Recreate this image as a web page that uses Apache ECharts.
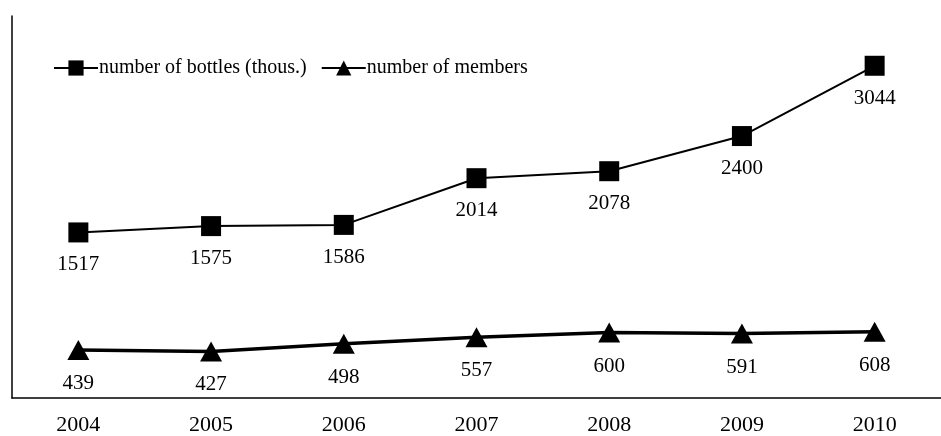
<!DOCTYPE html>
<html>
<head>
<meta charset="utf-8">
<script src="https://cdn.jsdelivr.net/npm/echarts@6/dist/echarts.min.js"></script>
<style>html,body{margin:0;padding:0;background:#fff}#c{width:941px;height:436px}</style>
</head>
<body>
<div id="c"></div>
<script>
var years = ['2004','2005','2006','2007','2008','2009','2010'];
var bottles = [1517,1575,1586,2014,2078,2400,3044];
var members = [439,427,498,557,600,591,608];
var seriesNames = ['number of bottles (thous.)','number of members'];

var font = 'Liberation Serif, Times New Roman, serif';
var chart = echarts.init(document.getElementById('c'), null, {renderer:'canvas'});
chart.setOption({
  animation:false,
  backgroundColor:'#fff',
  legend:{
    left:48, top:53,
    itemWidth:44, itemHeight:19, itemGap:14,
    textStyle:{fontFamily:font, fontSize:20, color:'#000', padding:[0,0,0,-4]},
    data:seriesNames
  },
  grid:{left:12, top:16, width:940, bottom:37},
  xAxis:{
    type:'category', data:years, boundaryGap:true,
    axisLine:{lineStyle:{color:'#000', width:1.5}},
    axisTick:{show:false},
    axisLabel:{fontFamily:font, fontSize:22, color:'#000', margin:16}
  },
  yAxis:{
    type:'value', min:0, max:3500,
    axisLine:{show:true, lineStyle:{color:'#000', width:1.5}},
    axisTick:{show:false}, axisLabel:{show:false}, splitLine:{show:false}
  },
  series:[
    {name:seriesNames[0], type:'line', data:bottles, symbol:'rect', symbolSize:20,
     itemStyle:{color:'#000'}, lineStyle:{color:'#000', width:2},
     label:{show:true, position:'bottom', distance:12, fontFamily:font, fontSize:21, color:'#000'}},
    {name:seriesNames[1], type:'line', data:members, symbol:'triangle', symbolSize:[22,20],
     itemStyle:{color:'#000'}, lineStyle:{color:'#000', width:3.5},
     label:{show:true, position:'bottom', distance:13, fontFamily:font, fontSize:21, color:'#000'}}
  ]
});
</script>
</body>
</html>
